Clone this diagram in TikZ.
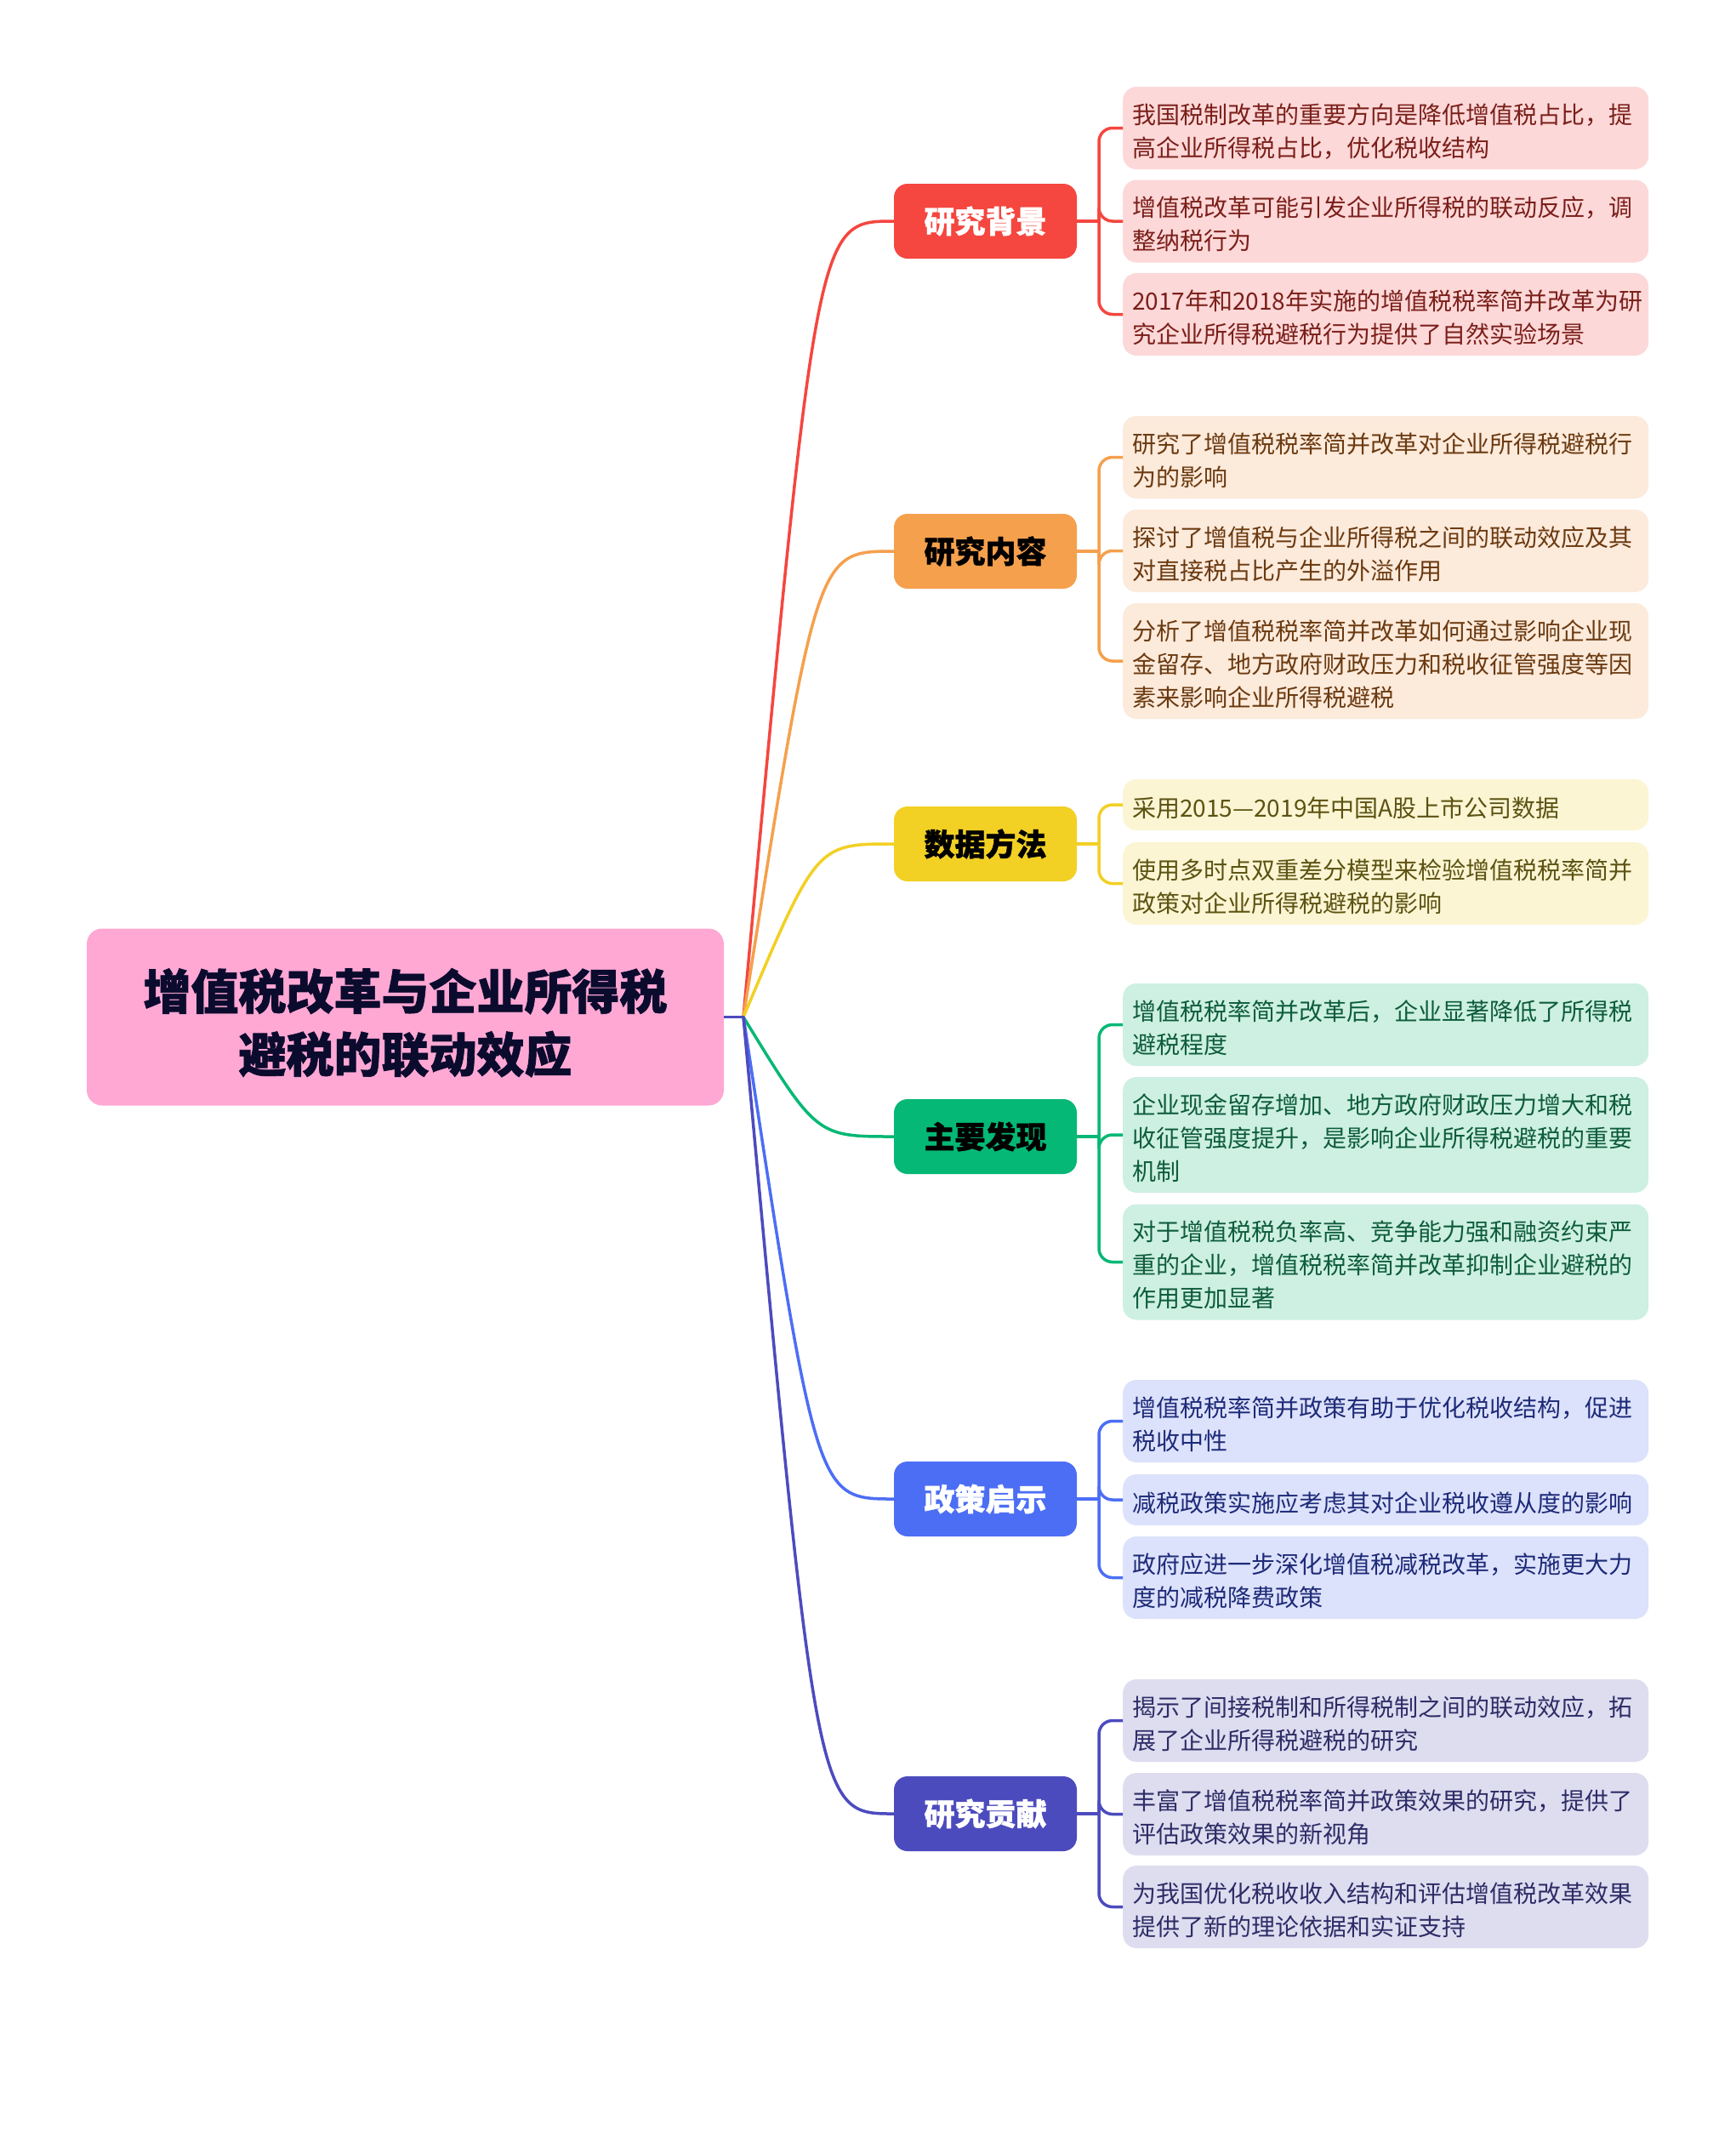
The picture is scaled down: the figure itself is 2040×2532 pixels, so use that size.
\documentclass[tikz,border=0pt]{standalone}
\usepackage{fontspec}
\setmainfont{Noto Sans CJK SC}[BoldFeatures={FakeBold=1.2}]
\definecolor{rootfill}{HTML}{FFA8D4}
\definecolor{roottext}{HTML}{0B0B2E}
\definecolor{cA}{HTML}{F5463F}\definecolor{lA}{HTML}{FDD8D8}\definecolor{tA}{HTML}{7A1F1A}
\definecolor{cB}{HTML}{F5A04D}\definecolor{lB}{HTML}{FCEADB}\definecolor{tB}{HTML}{6B3A10}
\definecolor{cC}{HTML}{F2D024}\definecolor{lC}{HTML}{FBF5D3}\definecolor{tC}{HTML}{5C5212}
\definecolor{cD}{HTML}{05B875}\definecolor{lD}{HTML}{CDF0E2}\definecolor{tD}{HTML}{0E5C3C}
\definecolor{cE}{HTML}{4C6EF5}\definecolor{lE}{HTML}{DCE2FB}\definecolor{tE}{HTML}{1E2A78}
\definecolor{cF}{HTML}{4C4BBE}\definecolor{lF}{HTML}{DEDDF0}\definecolor{tF}{HTML}{2E2C66}
\tikzset{
  rootbox/.style={rectangle, rounded corners=18pt, fill=rootfill, text=roottext, minimum width=749pt, minimum height=208pt, text width=720pt, align=center, font=\fontsize{56}{74}\selectfont\bfseries, execute at begin node={\rule{0pt}{62pt}}},
  branchbox/.style={rectangle, rounded corners=16pt, minimum width=215pt, minimum height=88pt, inner sep=0pt, font=\fontsize{36}{40}\selectfont\bfseries},
  leafbox/.style={rectangle, rounded corners=16pt, anchor=west, text width=596pt, inner xsep=11pt, inner ysep=0pt, align=left, font=\fontsize{28}{39}\selectfont, execute at begin node={\rule{0pt}{31pt}}},
  conn/.style={line width=3.5pt, line cap=round},
  bracket/.style={line width=3.5pt, rounded corners=16pt}
}
\begin{document}
\begin{tikzpicture}[x=1pt,y=-1pt]
\useasboundingbox[fill=white] (0,0) rectangle (2040,2532);
% root
\node[rootbox] (root) at (476.5,1195.5) {增值税改革与企业所得税\\避税的联动效应};
\coordinate (J) at (874,1195.5);
% branches
\node[branchbox, fill=cA, text=white] (bA) at (1158.5,260) {研究背景};
\node[branchbox, fill=cB, text=black] (bB) at (1158.5,648) {研究内容};
\node[branchbox, fill=cC, text=black] (bC) at (1158.5,992) {数据方法};
\node[branchbox, fill=cD, text=black] (bD) at (1158.5,1336) {主要发现};
\node[branchbox, fill=cE, text=white] (bE) at (1158.5,1762) {政策启示};
\node[branchbox, fill=cF, text=white] (bF) at (1158.5,2132) {研究贡献};
% leaves A
\node[leafbox, fill=lA, text=tA, minimum height=97pt] (a1) at (1320,150.5) {我国税制改革的重要方向是降低增值税占比，提\\高企业所得税占比，优化税收结构};
\node[leafbox, fill=lA, text=tA, minimum height=97pt] (a2) at (1320,260) {增值税改革可能引发企业所得税的联动反应，调\\整纳税行为};
\node[leafbox, fill=lA, text=tA, minimum height=97pt] (a3) at (1320,369.5) {2017年和2018年实施的增值税税率简并改革为研\\究企业所得税避税行为提供了自然实验场景};
% leaves B
\node[leafbox, fill=lB, text=tB, minimum height=97pt] (b1) at (1320,537.5) {研究了增值税税率简并改革对企业所得税避税行\\为的影响};
\node[leafbox, fill=lB, text=tB, minimum height=97pt] (b2) at (1320,647.5) {探讨了增值税与企业所得税之间的联动效应及其\\对直接税占比产生的外溢作用};
\node[leafbox, fill=lB, text=tB, minimum height=136pt] (b3) at (1320,777) {分析了增值税税率简并改革如何通过影响企业现\\金留存、地方政府财政压力和税收征管强度等因\\素来影响企业所得税避税};
% leaves C
\node[leafbox, fill=lC, text=tC, minimum height=60pt] (c1) at (1320,946) {采用2015—2019年中国A股上市公司数据};
\node[leafbox, fill=lC, text=tC, minimum height=97pt] (c2) at (1320,1038.5) {使用多时点双重差分模型来检验增值税税率简并\\政策对企业所得税避税的影响};
% leaves D
\node[leafbox, fill=lD, text=tD, minimum height=97pt] (d1) at (1320,1204.5) {增值税税率简并改革后，企业显著降低了所得税\\避税程度};
\node[leafbox, fill=lD, text=tD, minimum height=136pt] (d2) at (1320,1334) {企业现金留存增加、地方政府财政压力增大和税\\收征管强度提升，是影响企业所得税避税的重要\\机制};
\node[leafbox, fill=lD, text=tD, minimum height=136pt] (d3) at (1320,1483.5) {对于增值税税负率高、竞争能力强和融资约束严\\重的企业，增值税税率简并改革抑制企业避税的\\作用更加显著};
% leaves E
\node[leafbox, fill=lE, text=tE, minimum height=97pt] (e1) at (1320,1670.5) {增值税税率简并政策有助于优化税收结构，促进\\税收中性};
\node[leafbox, fill=lE, text=tE, minimum height=60pt] (e2) at (1320,1763) {减税政策实施应考虑其对企业税收遵从度的影响};
\node[leafbox, fill=lE, text=tE, minimum height=97pt] (e3) at (1320,1854.5) {政府应进一步深化增值税减税改革，实施更大力\\度的减税降费政策};
% leaves F
\node[leafbox, fill=lF, text=tF, minimum height=97pt] (f1) at (1320,2022.5) {揭示了间接税制和所得税制之间的联动效应，拓\\展了企业所得税避税的研究};
\node[leafbox, fill=lF, text=tF, minimum height=97pt] (f2) at (1320,2132.5) {丰富了增值税税率简并政策效果的研究，提供了\\评估政策效果的新视角};
\node[leafbox, fill=lF, text=tF, minimum height=97pt] (f3) at (1320,2241.5) {为我国优化税收收入结构和评估增值税改革效果\\提供了新的理论依据和实证支持};
% main curves
\draw[conn, cA] (J) .. controls (960,260) .. (bA.west);
\draw[conn, cB] (J) .. controls (960,648) .. (bB.west);
\draw[conn, cC] (J) .. controls (960,992) .. (bC.west);
\draw[conn, cD] (J) .. controls (960,1336) .. (bD.west);
\draw[conn, cE] (J) .. controls (960,1762) .. (bE.west);
\draw[conn, cF] (J) .. controls (960,2132) .. (bF.west);
\draw[conn, cF, line cap=butt] (root.east) -- (J);
% brackets
\foreach \b/\c/\ls in {bA/cA/{a1,a2,a3}, bB/cB/{b1,b2,b3}, bC/cC/{c1,c2}, bD/cD/{d1,d2,d3}, bE/cE/{e1,e2,e3}, bF/cF/{f1,f2,f3}}{
  \coordinate (j\b) at (1292,0 |- \b.east);
  \draw[line width=3.5pt, \c] (\b.east) -- (j\b);
  \foreach \l in \ls { \draw[bracket, \c] (j\b) |- (\l.west); }
}
\end{tikzpicture}
\end{document}
